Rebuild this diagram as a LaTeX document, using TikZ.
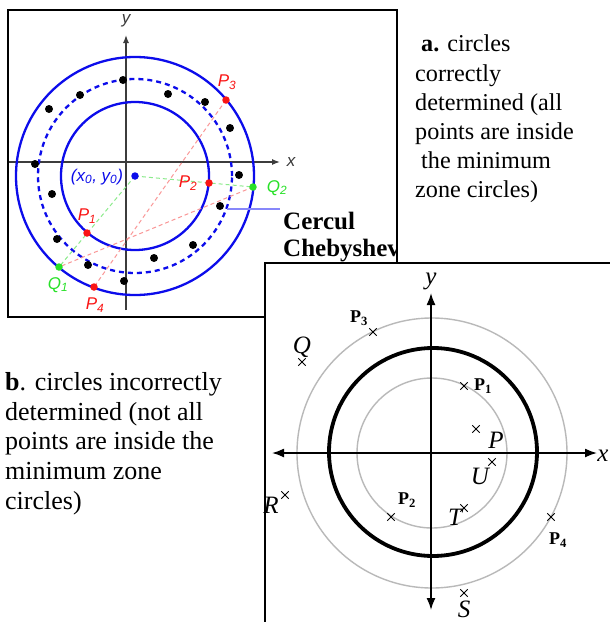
\documentclass[tikz,border=0pt]{standalone}
\usepackage{fontspec}
\setmainfont{Liberation Serif}
\newfontfamily\sansfont{Liberation Sans}
\usepackage{tikz}
\usetikzlibrary{arrows.meta,shapes.misc}
\definecolor{cblue}{RGB}{12,12,235}
\definecolor{lblue}{RGB}{135,135,250}
\definecolor{cred}{RGB}{250,20,20}
\definecolor{lred}{RGB}{250,150,150}
\definecolor{cgreen}{RGB}{40,225,40}
\definecolor{lgreen}{RGB}{140,235,140}
\definecolor{cgray}{RGB}{185,185,185}
\definecolor{axgray}{RGB}{60,60,60}

\begin{document}
\begin{tikzpicture}[x=1pt, y=-1pt,
  blackdot/.style={circle, fill=black, inner sep=0pt, minimum size=8pt},
  reddot/.style={blackdot, fill=cred, minimum size=7.5pt},
  greendot/.style={blackdot, fill=cgreen, minimum size=7.5pt},
  alabel/.style={font=\sansfont\itshape\fontsize{17}{17}\selectfont, inner sep=0pt},
  bluecirc/.style={cblue, line width=2.3pt},
  aaxis/.style={axgray, line width=1.3pt, -{Latex[length=8pt,width=6pt]}},
  reddash/.style={lred, line width=1pt, dash pattern=on 4pt off 3pt},
  greendash/.style={lgreen, line width=1pt, dash pattern=on 4pt off 3pt},
  graycirc/.style={cgray, line width=1.4pt},
  baxis/.style={line width=1.6pt, {Latex[length=12pt,width=9pt]}-{Latex[length=12pt,width=9pt]}},
  xmark/.style={draw, cross out, minimum size=6.5pt, inner sep=0pt, line width=0.9pt},
  boldlabel/.style={font=\bfseries\fontsize{18}{18}\selectfont, inner sep=0pt},
  itlabel/.style={font=\itshape\fontsize{25}{25}\selectfont, inner sep=0pt},
  textblock/.style={align=left, anchor=north west, inner sep=0pt}]
\useasboundingbox (0,0) rectangle (610,622);
\clip (0,0) rectangle (610,622);
\fill[white] (0,0) rectangle (610,622);
\begin{scope}
\clip (8,10) rectangle (397,317);
\coordinate (c0) at (135,176);
\draw[aaxis] (8,162) -- (280,162);
\draw[aaxis] (126,310) -- (126,35);
\node[alabel, text=axgray] (ylab) at (126,21) {y};
\node[alabel, text=axgray] (xlab) at (291,162) {x};
\draw[bluecirc] (c0) circle[radius=119pt];
\draw[bluecirc, dash pattern=on 5pt off 4pt] (c0) circle[radius=97pt];
\draw[bluecirc] (c0) circle[radius=74pt];
\coordinate (p1) at (87,233);
\coordinate (p2) at (209,183);
\coordinate (p3) at (226,100);
\coordinate (p4) at (94,287);
\coordinate (q1) at (59,267);
\coordinate (q2) at (253,187);
\draw[greendash] (c0) -- (q1);
\draw[greendash] (c0) -- (q2);
\draw[reddash] (p3) -- (p4);
\draw[reddash] (q2) -- (q1);
\foreach \pos [count=\i] in {(123,80),(80,95),(49,109),(168,94),(205,102),(230,128),(35,164),(239,175),(52,194),(220,206),(57,239),(193,245),(154,258),(88,265),(124,281)}
  \node[blackdot] (d\i) at \pos {};
\node[reddot] (p1dot) at (p1) {};
\node[reddot] (p2dot) at (p2) {};
\node[reddot] (p3dot) at (p3) {};
\node[reddot] (p4dot) at (p4) {};
\node[greendot] (q1dot) at (q1) {};
\node[greendot] (q2dot) at (q2) {};
\node[blackdot, fill=cblue, minimum size=7.5pt] (c0dot) at (c0) {};
\node[alabel, text=cred] (p1lab) at (87,216) {P\textsubscript{1}};
\node[alabel, text=cred] (p2lab) at (188,183) {P\textsubscript{2}};
\node[alabel, text=cred] (p3lab) at (227,82) {P\textsubscript{3}};
\node[alabel, text=cred] (p4lab) at (95,305) {P\textsubscript{4}};
\node[alabel, text=cgreen] (q1lab) at (58,285) {Q\textsubscript{1}};
\node[alabel, text=cgreen] (q2lab) at (277,188) {Q\textsubscript{2}};
\node[alabel, text=cblue] (c0lab) at (97,177) {(x\textsubscript{0}, y\textsubscript{0})};
\coordinate (chebstart) at (227,209);
\coordinate (chebend) at (280,209);
\draw[lblue, line width=1.8pt] (chebstart) -- (chebend);
\node[align=left, anchor=north west, inner sep=0pt, font=\bfseries\fontsize{25}{27}\selectfont] (cheb) at (283,212) {Cercul\\Chebyshev};
\end{scope}
\draw[line width=1.8pt] (8,10) rectangle (397,317);
\node[textblock, font=\fontsize{24.2}{29.2}\selectfont] (atext) at (415,35) {\hspace*{6pt}\textbf{a.} circles\\correctly\\determined (all\\points are inside\\\hspace*{6pt}the minimum\\zone circles)};
\node[textblock, font=\fontsize{26}{29.8}\selectfont] (btext) at (5,372) {\textbf{b}. circles incorrectly\\determined (not all\\points are inside the\\minimum zone\\circles)};
\draw[line width=1.8pt, fill=white] (265,263) rectangle (620,630);
\coordinate (bc) at (432,453);
\draw[graycirc] (bc) circle[radius=135pt];
\draw[graycirc] (bc) circle[radius=75pt];
\draw[line width=3.8pt] (433,452) circle[radius=104pt];
\draw[baxis] (272,453) -- (597,453);
\draw[baxis] (431,293) -- (431,610);
\node[itlabel] (bylab) at (431,281) {y};
\node[itlabel] (bxlab) at (603,456) {x};
\foreach \name/\px/\py in {m3/373/332, mq/302/362, m1/464/386, mp/476/429, mu/492/462, mr/285/495, m2/391/517, mt/464/508, m4/551/517, ms/464/593}
  \node[xmark] (\name) at (\px,\py) {};
\node[boldlabel] (l3) at (359,318) {P\textsubscript{3}};
\node[itlabel] (lq) at (302,347) {Q};
\node[boldlabel] (l1) at (483,386) {P\textsubscript{1}};
\node[itlabel] (lp) at (496,440) {P};
\node[itlabel] (lu) at (480,476) {U};
\node[itlabel] (lr) at (271,505) {R};
\node[boldlabel] (l2) at (407,500) {P\textsubscript{2}};
\node[itlabel] (lt) at (455,517) {T};
\node[boldlabel] (l4) at (558,540) {P\textsubscript{4}};
\node[itlabel] (ls) at (464,609) {S};
\end{tikzpicture}
\end{document}
